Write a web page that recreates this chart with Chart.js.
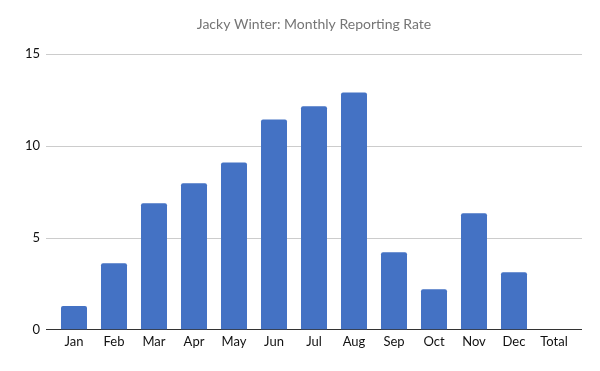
<!DOCTYPE html>
<html>
<head>
<meta charset="utf-8">
<title>Jacky Winter: Monthly Reporting Rate</title>
<script src="https://cdn.jsdelivr.net/npm/chart.js@4"></script>
<style>
  html, body { margin: 0; padding: 0; background: #fff; }
  #wrap { width: 600px; height: 371px; }
</style>
</head>
<body>
<div id="wrap"><canvas id="chart" width="600" height="371"></canvas></div>
<script>
// data
const months = ['Jan', 'Feb', 'Mar', 'Apr', 'May', 'Jun', 'Jul', 'Aug', 'Sep', 'Oct', 'Nov', 'Dec', 'Total'];
const reportingRate = [1.27, 3.6, 6.86, 7.95, 9.09, 11.43, 12.14, 12.9, 4.2, 2.19, 6.32, 3.11, null];
const yTicks = [0, 5, 10, 15];

const FONT = 'Lato, "Noto Sans", sans-serif';

// horizontal grid that runs a little past the plot on both sides, like the original
const wideGrid = {
  id: 'wideGrid',
  beforeDatasetsDraw(chart) {
    const { ctx, chartArea, scales } = chart;
    ctx.save();
    ctx.lineWidth = 1;
    yTicks.forEach(v => {
      const y = Math.round(scales.y.getPixelForValue(v)) + 0.5;
      ctx.strokeStyle = v === 0 ? '#333333' : '#cccccc';
      ctx.beginPath();
      ctx.moveTo(chartArea.left - 8, y);
      ctx.lineTo(chartArea.right + 8, y);
      ctx.stroke();
    });
    ctx.restore();
  }
};

new Chart(document.getElementById('chart'), {
  type: 'bar',
  data: {
    labels: months,
    datasets: [{
      label: 'Reporting rate',
      data: reportingRate,
      backgroundColor: '#4472c4',
      borderRadius: { topLeft: 2, topRight: 2 },
      borderSkipped: 'bottom',
      barPercentage: 0.65,
      categoryPercentage: 1
    }]
  },
  options: {
    responsive: false,
    animation: false,
    layout: { padding: { left: 0, right: 0, top: 0, bottom: 16 } },
    plugins: {
      legend: { display: false },
      tooltip: { enabled: false },
      title: {
        display: true,
        fullSize: false,
        text: 'Jacky Winter: Monthly Reporting Rate',
        color: '#757575',
        font: { family: FONT, size: 14, weight: 'normal' },
        padding: { top: 16, bottom: 21 }
      }
    },
    scales: {
      x: {
        grid: { display: false, drawTicks: false },
        border: { display: false },
        ticks: { color: '#111', font: { family: FONT, size: 13 }, padding: 5 }
      },
      y: {
        min: 0,
        max: 15,
        grid: { display: false, drawTicks: false },
        border: { display: false },
        afterFit(s) { s.width = 54; },
        ticks: { stepSize: 5, color: '#111', font: { family: FONT, size: 13 }, padding: 14 }
      },
      y2: {
        position: 'right',
        grid: { display: false, drawTicks: false },
        border: { display: false },
        ticks: { display: false },
        afterFit(s) { s.width = 26; }
      }
    }
  },
  plugins: [wideGrid]
});
</script>
</body>
</html>
